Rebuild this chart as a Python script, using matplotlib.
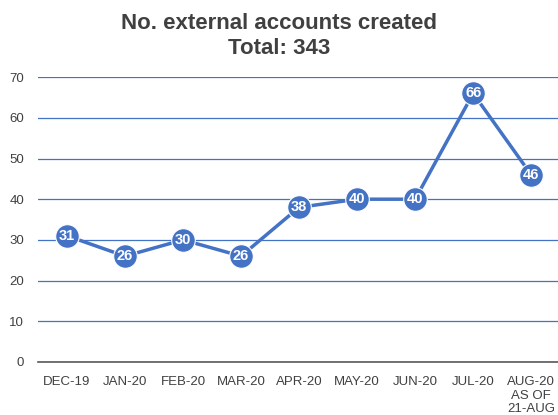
import matplotlib
matplotlib.use("Agg")
import matplotlib.pyplot as plt

categories = ["DEC-19", "JAN-20", "FEB-20", "MAR-20", "APR-20", "MAY-20", "JUN-20", "JUL-20", "AUG-20\nAS OF\n21-AUG"]
values = [31, 26, 30, 26, 38, 40, 40, 66, 46]
yticks = [0, 10, 20, 30, 40, 50, 60, 70]

plt.rcParams['font.family'] = ['Liberation Sans', 'DejaVu Sans']
fig = plt.figure(figsize=(5.58, 4.15), dpi=100)
ax = fig.add_axes([0.068, 0.128, 0.936, 0.686])
x = list(range(len(categories)))
ax.set_xlim(-0.5, len(categories) - 0.5)
ax.set_ylim(0, 70)
ax.set_yticks(yticks)
ax.grid(axis='y', color='#4472C4', linewidth=0.9, zorder=0)
ax.set_axisbelow(True)
for s in ['top', 'right', 'left']:
    ax.spines[s].set_visible(False)
ax.spines['bottom'].set_color('#595959')
ax.spines['bottom'].set_linewidth(1.2)
ax.tick_params(axis='both', length=0, colors='#404040', labelsize=9.5)
ax.tick_params(axis='y', pad=10)
ax.tick_params(axis='x', pad=10)
ax.set_xticks(x)
ax.set_xticklabels(categories, linespacing=1.2)
ax.plot(x, values, color='#4472C4', linewidth=2.5, marker='o', markersize=17,
        markerfacecolor='#4472C4', markeredgecolor='white', markeredgewidth=0.8, zorder=3, clip_on=False)
for xi, v in zip(x, values):
    ax.text(xi, v, str(v), ha='center', va='center', color='white', fontsize=10.5,
            fontweight='bold', zorder=4)
fig.text(0.5, 0.968, "No. external accounts created\nTotal: 343", ha='center', va='top',
         fontsize=16, fontweight='bold', color='#404040', linespacing=1.22)
fig.savefig("out.png", dpi=100)
